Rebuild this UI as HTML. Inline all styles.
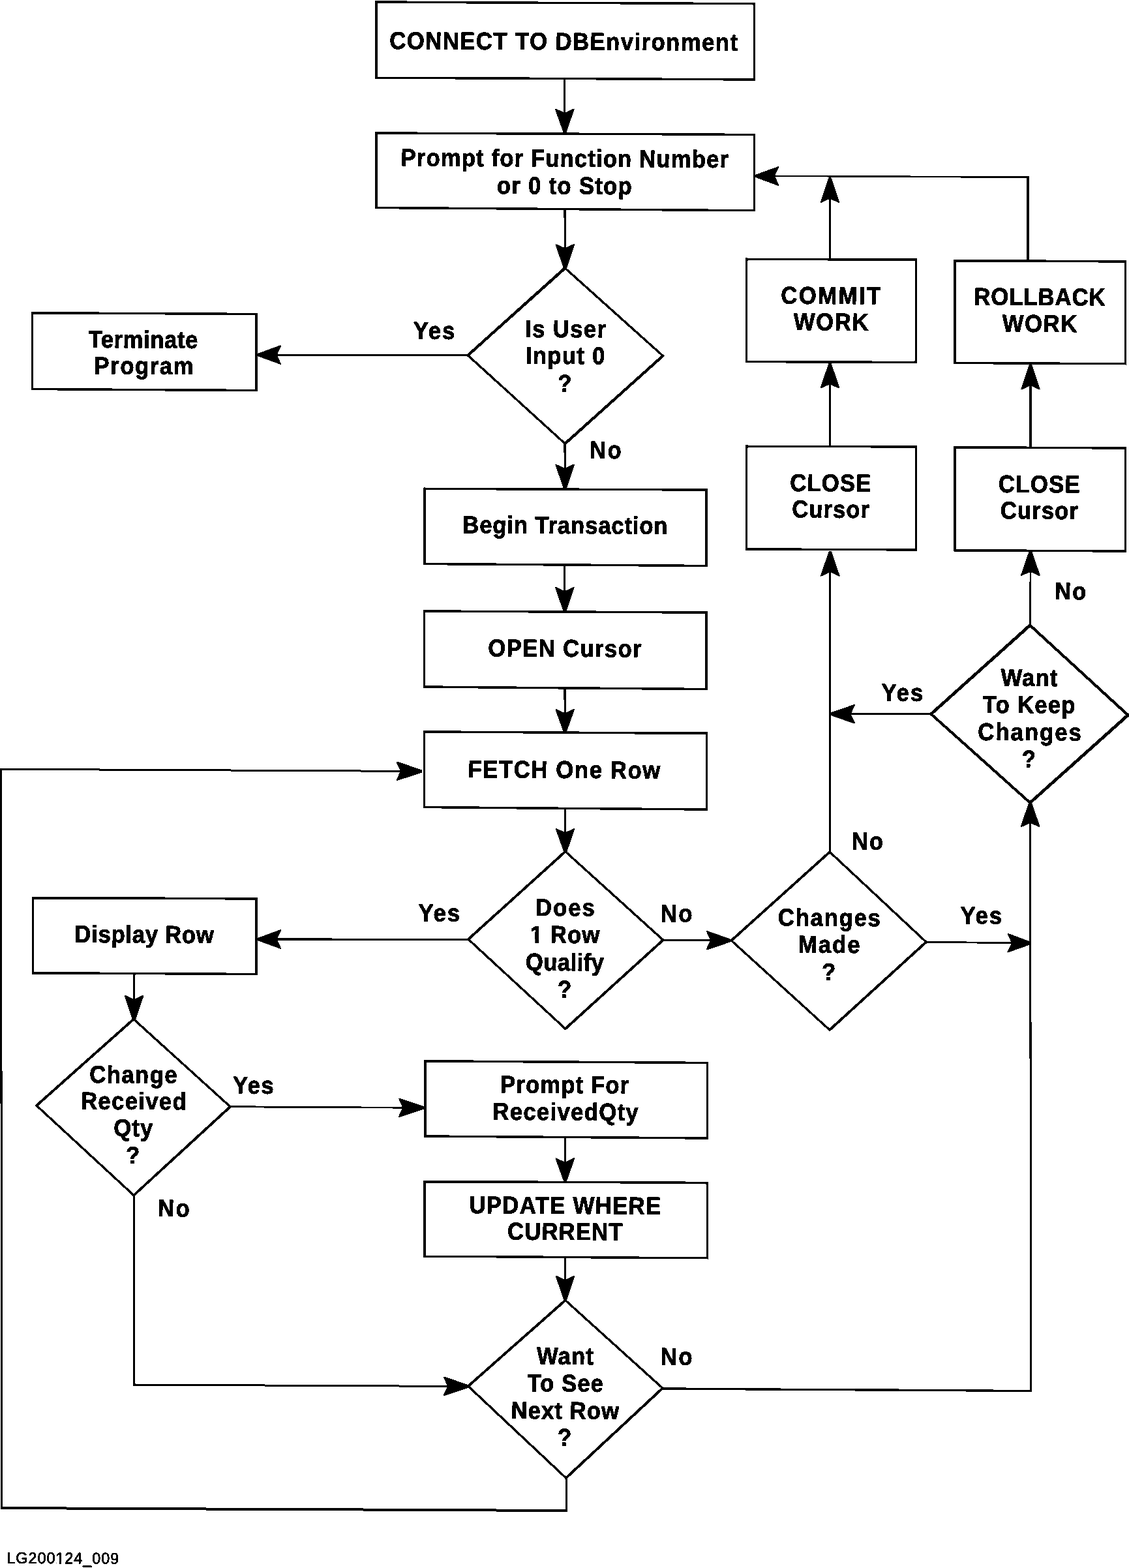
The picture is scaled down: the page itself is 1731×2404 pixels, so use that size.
<!DOCTYPE html>
<html lang="en">
<head>
<meta charset="utf-8">
<title>Cursor processing flow chart</title>
<style>
html,body{margin:0;padding:0;background:#fff;}
body{width:1731px;height:2404px;overflow:hidden;}
svg{display:block;}
text{font-family:"Liberation Sans",Arial,Helvetica,sans-serif;font-weight:bold;font-size:37.3px;font-kerning:normal;fill:#000;stroke:#000;stroke-width:0.9px;stroke-linejoin:round;}
text.s{font-weight:normal;font-size:24.2px;stroke-width:0.8px;}
.b{fill:none;stroke:#000;stroke-width:3.5;stroke-linejoin:miter;}
.d{fill:none;stroke:#000;stroke-width:4.2;stroke-linecap:round;}
.c{fill:none;stroke:#000;stroke-width:3;stroke-linejoin:miter;stroke-linecap:butt;}
.a{fill:#000;stroke:#000;stroke-width:2;stroke-linejoin:round;}
</style>
</head>
<body>
<svg width="1731" height="2404" viewBox="0 0 1731 2404">
<defs><filter id="bw" filterUnits="userSpaceOnUse" x="0" y="0" width="1731" height="2404" color-interpolation-filters="sRGB"><feComponentTransfer><feFuncA type="discrete" tableValues="0 1"/></feComponentTransfer></filter></defs>
<rect x="0" y="0" width="1731" height="2404" fill="#fff"/>
<g filter="url(#bw)">
<g class="c">
<line x1="865.6" y1="121" x2="866" y2="204" stroke-width="3.1"/>
<line x1="866" y1="320" x2="866.5" y2="411" stroke-width="3.1"/>
<line x1="717.3" y1="544.8" x2="395" y2="544" stroke-width="2.9"/>
<line x1="866" y1="680.2" x2="866.4" y2="750" stroke-width="3.1"/>
<line x1="865.8" y1="866" x2="866" y2="938.3" stroke-width="3.1"/>
<line x1="866" y1="1054" x2="866.3" y2="1123.3" stroke-width="3.1"/>
<line x1="866.3" y1="1239" x2="866.8" y2="1305.4" stroke-width="3.1"/>
<line x1="718" y1="1440.1" x2="395" y2="1440" stroke-width="2.9"/>
<line x1="1016.7" y1="1441.2" x2="1120.8" y2="1442" stroke-width="2.9"/>
<line x1="1272.8" y1="1306" x2="1272.8" y2="845.2" stroke-width="3.1"/>
<line x1="1272.5" y1="684.5" x2="1272.5" y2="557" stroke-width="3.1"/>
<line x1="1272.5" y1="397.5" x2="1272.5" y2="272.5" stroke-width="3.1"/>
<line x1="1420" y1="1444.3" x2="1580.5" y2="1446" stroke-width="2.9"/>
<line x1="1580.6" y1="2134" x2="1579.6" y2="1230.7" stroke-width="3"/>
<line x1="1427.5" y1="1094.8" x2="1273.5" y2="1094.6" stroke-width="2.9"/>
<line x1="1579.6" y1="958.6" x2="1580" y2="844.5" stroke-width="2.6"/>
<line x1="1580" y1="686.5" x2="1580" y2="559" stroke-width="3.1"/>
<line x1="1576.4" y1="400" x2="1576.4" y2="270.5" stroke-width="4"/>
<line x1="1578" y1="271.6" x2="1158.3" y2="269.8" stroke-width="2.6"/>
<line x1="205.8" y1="1492.5" x2="205.5" y2="1562.6" stroke-width="3.1"/>
<line x1="353" y1="1696.8" x2="650.5" y2="1698.4" stroke-width="2.9"/>
<line x1="205.3" y1="1832.6" x2="205.8" y2="2124.4" stroke-width="3.1"/>
<line x1="204.4" y1="2122.99" x2="717.8" y2="2125.5" stroke-width="2.9"/>
<line x1="1015.9" y1="2129" x2="1581.6" y2="2132.4" stroke-width="3.3"/>
<line x1="868.2" y1="2266" x2="868.6" y2="2316" stroke-width="3.1"/>
<line x1="870.2" y1="2316" x2="1" y2="2312" stroke-width="4"/>
<line x1="2.8" y1="2314" x2="1.4" y2="1177.8" stroke-width="3"/>
<line x1="0" y1="1179.2" x2="647" y2="1182.5" stroke-width="2.9"/>
<line x1="866.3" y1="1743" x2="866.5" y2="1811.8" stroke-width="3.1"/>
<line x1="866.5" y1="1927.5" x2="866.8" y2="1993.6" stroke-width="3.1"/>
</g>
<g class="b">
<polygon points="576.8,3 1156.4,5.8 1156.4,122 576.8,119.2"/>
<polygon points="576.8,203.9 1156.5,206.5 1156.5,322.8 576.8,318.5"/>
<polygon points="49.6,479.7 393,481.6 393,598.4 49.6,596.6"/>
<polygon points="651,749.3 1083.2,751 1083.2,867.4 651,864.6"/>
<polygon points="650.3,937 1083,939 1083,1056.5 650.3,1053"/>
<polygon points="650.6,1121.9 1083.5,1124.3 1083.5,1241 650.6,1237.5"/>
<polygon points="50.3,1376.4 393,1377.9 393,1493.6 50.3,1491.8"/>
<polygon points="651.8,1626.8 1084.6,1629.5 1084.6,1745 651.8,1742"/>
<polygon points="651,1811.6 1084.3,1813.4 1084.3,1928.8 651,1926.2"/>
<polygon points="1144.6,397.3 1404.4,398 1404.4,555.6 1144.6,554.5"/>
<polygon points="1463.9,399.5 1725.5,401 1725.5,557.8 1463.9,556.4"/>
<polygon points="1144.6,684.2 1404.4,685 1404.4,843 1144.6,841.8"/>
<polygon points="1463.9,685.7 1725.5,687 1725.5,845 1463.9,843.7"/>
</g>
<g class="d">
<path d="M717.3,544.8 L866.3,411 M1016.3,545.6 L866.4,680.2" stroke-width="4.4"/>
<path d="M866.3,411 L1016.3,545.6 M866.4,680.2 L717.3,544.8" stroke-width="3.4"/>
<path d="M718,1440.1 L866.8,1305.4 M1016.7,1441.2 L866.8,1577.2" stroke-width="4"/>
<path d="M866.8,1305.4 L1016.7,1441.2 M866.8,1577.2 L718,1440.1" stroke-width="3.4"/>
<path d="M56,1695 L204.9,1562.6 M353,1696.8 L205,1832.6" stroke-width="4"/>
<path d="M204.9,1562.6 L353,1696.8 M205,1832.6 L56,1695" stroke-width="3.4"/>
<path d="M717.8,2125.2 L866.8,1993.6 M1015.9,2128.3 L867.8,2266" stroke-width="4"/>
<path d="M866.8,1993.6 L1015.9,2128.3 M867.8,2266 L717.8,2125.2" stroke-width="3.4"/>
<path d="M1121.3,1442 L1272.2,1306.2 M1420,1444.3 L1272,1579" stroke-width="4"/>
<path d="M1272.2,1306.2 L1420,1444.3 M1272,1579 L1121.3,1442" stroke-width="3.4"/>
<path d="M1427.5,1094.8 L1579.2,958.6 M1729.4,1096.4 L1579.3,1230.7" stroke-width="4.8"/>
<path d="M1579.2,958.6 L1729.4,1096.4 M1579.3,1230.7 L1427.5,1094.8" stroke-width="4.2"/>
</g>
<g class="a">
<polygon points="864.6,203.01 852.02,167.57 865.86,174 879.62,167.43 867.4,202.99"/>
<polygon points="865.1,411.51 852.5,375.08 866.34,381.5 880.1,374.92 867.9,411.49"/>
<polygon points="396,542.6 430.03,530.29 423.5,544.07 429.97,557.89 396,545.4"/>
<polygon points="864.99,749.01 852.39,712.58 866.22,719 879.98,712.42 867.79,748.99"/>
<polygon points="864.6,937.3 852.1,900.84 865.91,907.3 879.7,900.76 867.4,937.3"/>
<polygon points="864.9,1122.31 852.35,1087.86 866.17,1094.3 879.95,1087.74 867.7,1122.29"/>
<polygon points="865.4,1305.91 852.74,1271 866.59,1277.4 880.34,1270.8 868.2,1305.89"/>
<polygon points="396,1438.6 430,1426.21 423.5,1440.01 430,1453.81 396,1441.4"/>
<polygon points="1119.79,1443.39 1083.7,1455.52 1090.3,1441.77 1083.91,1427.92 1119.81,1440.59"/>
<polygon points="1274.2,846.2 1286.6,882.7 1272.8,876.2 1259,882.7 1271.4,846.2"/>
<polygon points="1273.9,558 1286.3,594.5 1272.5,588 1258.7,594.5 1271.1,558"/>
<polygon points="1273.9,273.5 1286.3,310 1272.5,303.5 1258.7,310 1271.1,273.5"/>
<polygon points="1579.49,1447.39 1545.36,1459.43 1552,1445.7 1545.65,1431.83 1579.51,1444.59"/>
<polygon points="1581,1230.7 1593.44,1267.18 1579.63,1260.7 1565.84,1267.22 1578.2,1230.7"/>
<polygon points="1274.5,1093.2 1310.02,1080.85 1303.5,1094.64 1309.98,1108.45 1274.5,1096"/>
<polygon points="1581.4,845.5 1593.67,882.05 1579.89,875.5 1566.07,881.95 1578.6,845.5"/>
<polygon points="1581.4,560 1593.8,596.5 1580,590 1566.2,596.5 1578.6,560"/>
<polygon points="1159.31,268.4 1193.36,256.15 1186.8,269.92 1193.24,283.75 1159.29,271.2"/>
<polygon points="204.1,1563.09 191.85,1526.54 205.63,1533.1 219.45,1526.66 206.9,1563.11"/>
<polygon points="649.49,1699.79 611.93,1711.99 618.5,1698.23 612.07,1684.39 649.51,1696.99"/>
<polygon points="717.79,2126.9 680.73,2139.12 687.3,2125.35 680.87,2111.52 717.81,2124.1"/>
<polygon points="645.99,1183.89 608.43,1196.1 615,1182.34 608.57,1168.5 646.01,1181.09"/>
<polygon points="865.1,1810.8 852.6,1776.34 866.42,1782.8 880.2,1776.26 867.9,1810.8"/>
<polygon points="865.4,1993.11 852.83,1956.66 866.66,1963.1 880.43,1956.54 868.2,1993.09"/>
</g>
<g>
<text transform="translate(597.37 75) rotate(0.3) scale(0.93 1)" letter-spacing="1.56">CONNECT TO DBEnvironment</text>
<text transform="translate(614.48 254.3) rotate(0.3) scale(0.93 1)" letter-spacing="1.23">Prompt for Function Number</text>
<text transform="translate(761.77 296.9) rotate(0.3) scale(0.93 1)" letter-spacing="1.4">or 0 to Stop</text>
<text transform="translate(135.45 533) rotate(0.3) scale(0.93 1)" letter-spacing="0.64">Terminate</text>
<text transform="translate(144.28 573.2) rotate(0.3) scale(0.93 1)" letter-spacing="1.74">Program</text>
<text transform="translate(804.88 516.9) rotate(0.3) scale(0.93 1)" letter-spacing="1.52">Is User</text>
<text transform="translate(805.88 557.7) rotate(0.3) scale(0.93 1)" letter-spacing="1.38">Input 0</text>
<text transform="translate(709.28 817.2) rotate(0.3) scale(0.93 1)" letter-spacing="0.92">Begin Transaction</text>
<text transform="translate(1197.27 465.6) rotate(0.3) scale(0.93 1)" letter-spacing="2.66">COMMIT</text>
<text transform="translate(1216.65 506) rotate(0.3) scale(0.93 1)" letter-spacing="1.86">WORK</text>
<text transform="translate(1493.28 467.4) rotate(0.3) scale(0.93 1)" letter-spacing="1.04">ROLLBACK</text>
<text transform="translate(1536.75 508.6) rotate(0.3) scale(0.93 1)" letter-spacing="1.68">WORK</text>
<text transform="translate(1211.17 752.9) rotate(0.3) scale(0.93 1)" letter-spacing="1.26">CLOSE</text>
<text transform="translate(1214.17 793.3) rotate(0.3) scale(0.93 1)" letter-spacing="1.11">Cursor</text>
<text transform="translate(1530.87 754.8) rotate(0.3) scale(0.93 1)" letter-spacing="1.45">CLOSE</text>
<text transform="translate(1533.77 795.2) rotate(0.3) scale(0.93 1)" letter-spacing="1.13">Cursor</text>
<text transform="translate(748.37 1006.2) rotate(0.3) scale(0.93 1)" letter-spacing="1.46">OPEN Cursor</text>
<text transform="translate(717.38 1192.1) rotate(0.3) scale(0.93 1)" letter-spacing="1.74">FETCH One Row</text>
<text transform="translate(821.08 1403.9) rotate(0.3) scale(0.93 1)" letter-spacing="2.13">Does</text>
<text transform="translate(812.78 1445.4) rotate(0.3) scale(0.93 1)" letter-spacing="1.15">1 Row</text><rect transform="translate(812.78 1445.4) rotate(0.3) scale(0.93 1)" x="1.12" y="-5.22" width="6.98" height="6.42" fill="#fff"/><rect transform="translate(812.78 1445.4) rotate(0.3) scale(0.93 1)" x="14.39" y="-5.22" width="6.5" height="6.42" fill="#fff"/>
<text transform="translate(805.87 1487.8) rotate(0.3) scale(0.93 1)" letter-spacing="0.44">Qualify</text>
<text transform="translate(1534.45 1051.6) rotate(0.3) scale(0.93 1)" letter-spacing="1.21">Want</text>
<text transform="translate(1506.75 1092.8) rotate(0.3) scale(0.93 1)" letter-spacing="1.34">To Keep</text>
<text transform="translate(1499.37 1134.7) rotate(0.3) scale(0.93 1)" letter-spacing="2.17">Changes</text>
<text transform="translate(1192.87 1419.2) rotate(0.3) scale(0.93 1)" letter-spacing="1.9">Changes</text>
<text transform="translate(1223.78 1460.5) rotate(0.3) scale(0.93 1)" letter-spacing="2.21">Made</text>
<text transform="translate(114.28 1444.8) rotate(0.3) scale(0.93 1)" letter-spacing="0.78">Display Row</text>
<text transform="translate(137.17 1660) rotate(0.3) scale(0.93 1)" letter-spacing="1.56">Change</text>
<text transform="translate(123.98 1700.5) rotate(0.3) scale(0.93 1)" letter-spacing="1.45">Received</text>
<text transform="translate(174.17 1741.9) rotate(0.3) scale(0.93 1)" letter-spacing="1.26">Qty</text>
<text transform="translate(766.98 1675.3) rotate(0.3) scale(0.93 1)" letter-spacing="1.23">Prompt For</text>
<text transform="translate(755.28 1716.8) rotate(0.3) scale(0.93 1)" letter-spacing="1.43">ReceivedQty</text>
<text transform="translate(719.42 1860.1) rotate(0.3) scale(0.93 1)" letter-spacing="1.46">UPDATE WHERE</text>
<text transform="translate(777.97 1900.5) rotate(0.3) scale(0.93 1)" letter-spacing="1.26">CURRENT</text>
<text transform="translate(823.05 2091.5) rotate(0.3) scale(0.93 1)" letter-spacing="1.14">Want</text>
<text transform="translate(808.45 2133.2) rotate(0.3) scale(0.93 1)" letter-spacing="1.12">To See</text>
<text transform="translate(783.48 2175) rotate(0.3) scale(0.93 1)" letter-spacing="1.15">Next Row</text>
<text transform="translate(633.71 519.6) rotate(0.3) scale(0.93 1)" letter-spacing="2.01">Yes</text>
<text transform="translate(903.98 702.6) rotate(0.3) scale(0.93 1)" letter-spacing="2.65">No</text>
<text transform="translate(1617.28 919) rotate(0.3) scale(0.93 1)" letter-spacing="1.79">No</text>
<text transform="translate(1351.41 1074.6) rotate(0.3) scale(0.93 1)" letter-spacing="2.01">Yes</text>
<text transform="translate(1305.68 1302.3) rotate(0.3) scale(0.93 1)" letter-spacing="2.22">No</text>
<text transform="translate(1472.61 1416.2) rotate(0.3) scale(0.93 1)" letter-spacing="1.9">Yes</text>
<text transform="translate(641.51 1412.3) rotate(0.3) scale(0.93 1)" letter-spacing="1.96">Yes</text>
<text transform="translate(1012.78 1413.2) rotate(0.3) scale(0.93 1)" letter-spacing="2.65">No</text>
<text transform="translate(356.91 1676.6) rotate(0.3) scale(0.93 1)" letter-spacing="1.47">Yes</text>
<text transform="translate(242.28 1865) rotate(0.3) scale(0.93 1)" letter-spacing="2.32">No</text>
<text transform="translate(1012.78 2092.4) rotate(0.3) scale(0.93 1)" letter-spacing="2.65">No</text>
<text transform="translate(855.15 600.5) rotate(0.3) scale(0.93 1)">?</text>
<text transform="translate(855.05 1529.6) rotate(0.3) scale(0.93 1)">?</text>
<text transform="translate(193.05 1784) rotate(0.3) scale(0.93 1)">?</text>
<text transform="translate(855.05 2216.5) rotate(0.3) scale(0.93 1)">?</text>
<text transform="translate(1260.1 1503) rotate(0.3) scale(0.93 1)">?</text>
<text transform="translate(1566.7 1176.6) rotate(0.3) scale(0.93 1)">?</text>
<text class="s" transform="translate(10.39 2396.8) rotate(0.3) scale(0.96 1)" letter-spacing="1.09">LG200124_009</text><rect transform="translate(10.39 2396.8) rotate(0.3) scale(0.96 1)" x="79.34" y="-2.9" width="4.44" height="4.1" fill="#fff"/><rect transform="translate(10.39 2396.8) rotate(0.3) scale(0.96 1)" x="86.95" y="-2.9" width="4.25" height="4.1" fill="#fff"/>
</g>
</g>
</svg>
</body>
</html>
